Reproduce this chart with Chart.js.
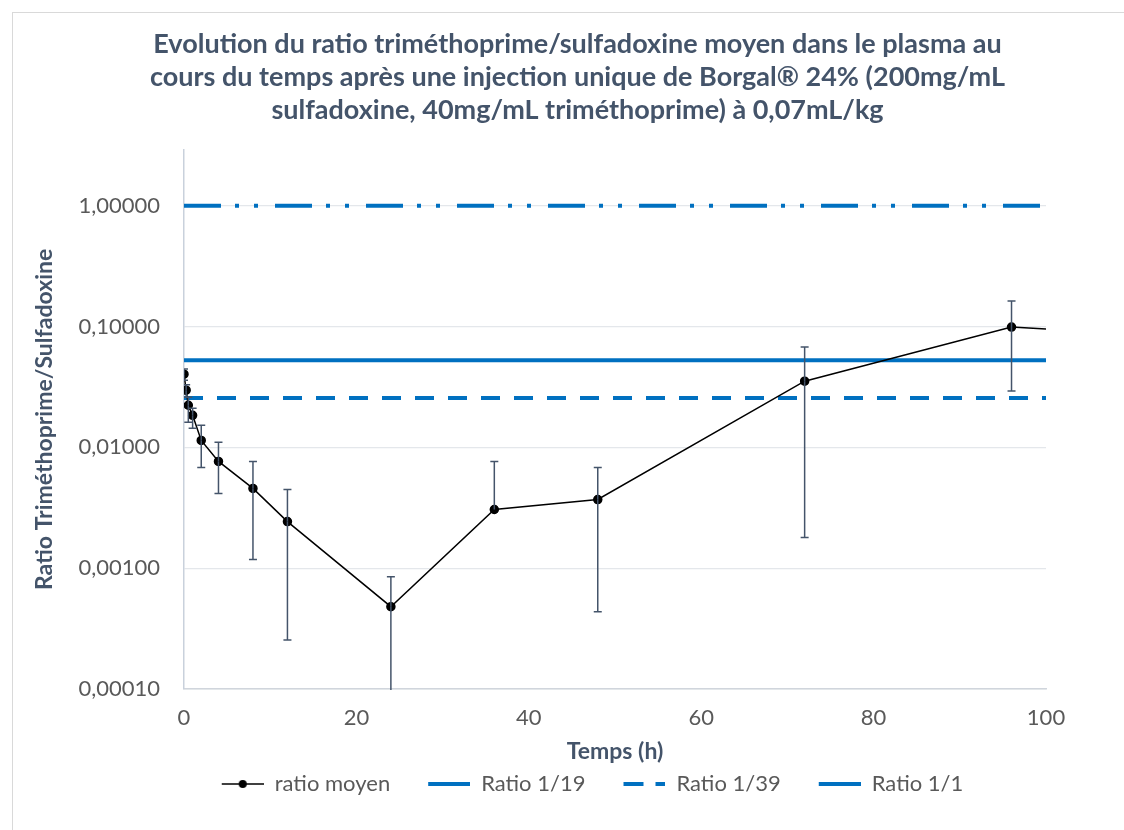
<!DOCTYPE html>
<html lang="fr">
<head>
    <meta charset="UTF-8">
    <title>Ratio triméthoprime/sulfadoxine</title>
    <style>
        body {
            margin: 0;
            background: #fff;
            overflow: hidden;
        }
        .cadre {
            position: absolute;
            left: 12px;
            top: 12px;
            width: 1200px;
            height: 900px;
            border-left: 1px solid #d9d9d9;
            border-top: 1px solid #d9d9d9;
        }
        .zone {
            position: absolute;
            left: 0;
            top: 0;
            width: 1124px;
            height: 830px;
        }
    </style>
</head>
<body>
    <div class="cadre"></div>
    <div class="zone">
        <canvas id="graphe" width="1124" height="830"></canvas>
    </div>

    <script src="https://cdn.jsdelivr.net/npm/chart.js"></script>

    <script>
        // Données
        var temps = [0, 0.25, 0.5, 1, 2, 4, 8, 12, 24, 36, 48, 72, 96, 120];
        var ratioMoyen = [0.0403, 0.0297, 0.0223, 0.0184, 0.0114, 0.00765, 0.00457, 0.00243, 0.00048, 0.00306, 0.0037, 0.0353, 0.099, 0.079];
        var erreurHaut = [0.0444, 0.033, 0.026, 0.0211, 0.0152, 0.0110, 0.00765, 0.00448, 0.00085, 0.00765, 0.00682, 0.0676, 0.163, null];
        var erreurBas = [0.036, 0.026, 0.0161, 0.0144, 0.00682, 0.00415, 0.00118, 0.000255, 0.00005, null, 0.000436, 0.00179, 0.0292, null];

        var bornesTemps = [0, 100];
        var ratio119 = 1 / 19;
        var ratio139 = 1 / 39;
        var ratio11 = 1;
        var ticksY = [0.0001, 0.001, 0.01, 0.1, 1];

        var bleu = '#0070C0';
        var ardoise = '#44546A';
        var gris = '#595959';
        var police = 'Lato, "Open Sans", sans-serif';

        function ligneH(valeur) {
            return bornesTemps.map(function (t) { return { x: t, y: valeur }; });
        }

        // Image de légende : marge transparente à gauche puis trait (+ point)
        function marqueur(couleur, epaisseur, tirets, point) {
            var marge = 30;
            var c = document.createElement('canvas');
            c.width = marge + 42;
            c.height = 14;
            var g = c.getContext('2d');
            g.strokeStyle = couleur;
            g.lineWidth = epaisseur;
            g.setLineDash(tirets);
            g.beginPath();
            g.moveTo(marge, 7);
            g.lineTo(marge + 42, 7);
            g.stroke();
            if (point) {
                g.fillStyle = couleur;
                g.beginPath();
                g.arc(marge + 21, 7, 4, 0, Math.PI * 2);
                g.fill();
            }
            return c;
        }

        // Barres d'erreur dessinées avec les échelles du graphique
        var barresErreur = {
            id: 'barresErreur',
            afterDatasetsDraw: function (chart) {
                var ctx = chart.ctx;
                var xs = chart.scales.x;
                var ys = chart.scales.y;
                var zone = chart.chartArea;
                ctx.save();
                ctx.beginPath();
                ctx.rect(zone.left, zone.top, zone.right - zone.left, zone.bottom - zone.top + 1);
                ctx.clip();
                ctx.strokeStyle = ardoise;
                ctx.lineWidth = 1.5;
                for (var i = 0; i < temps.length; i++) {
                    var px = xs.getPixelForValue(temps[i]);
                    var pm = ys.getPixelForValue(ratioMoyen[i]);
                    [erreurHaut[i], erreurBas[i]].forEach(function (v) {
                        if (v === null) return;
                        var py = ys.getPixelForValue(v);
                        ctx.beginPath();
                        ctx.moveTo(px, pm);
                        ctx.lineTo(px, py);
                        ctx.moveTo(px - 4, py);
                        ctx.lineTo(px + 4, py);
                        ctx.stroke();
                    });
                }
                ctx.restore();
            }
        };

        var ctx = document.getElementById('graphe').getContext('2d');
        var graphe = new Chart(ctx, {
            type: 'line',
            data: {
                datasets: [
                    {
                        label: 'ratio moyen',
                        data: temps.map(function (t, i) { return { x: t, y: ratioMoyen[i] }; }),
                        borderColor: '#000',
                        backgroundColor: '#000',
                        borderWidth: 1.5,
                        pointRadius: 4,
                        pointHoverRadius: 4,
                        tension: 0,
                        order: 1
                    },
                    {
                        label: 'Ratio 1/19',
                        data: ligneH(ratio119),
                        borderColor: bleu,
                        borderWidth: 4,
                        pointRadius: 0,
                        order: 2
                    },
                    {
                        label: 'Ratio 1/39',
                        data: ligneH(ratio139),
                        borderColor: bleu,
                        borderWidth: 4,
                        borderDash: [19, 14],
                        pointRadius: 0,
                        order: 2
                    },
                    {
                        label: 'Ratio 1/1',
                        data: ligneH(ratio11),
                        borderColor: bleu,
                        borderWidth: 4,
                        borderDash: [37, 14, 4, 15, 4, 17],
                        pointRadius: 0,
                        order: 2
                    }
                ]
            },
            plugins: [barresErreur],
            options: {
                responsive: false,
                animation: false,
                layout: {
                    padding: { left: 31, right: 0, top: 12, bottom: 25 }
                },
                plugins: {
                    tooltip: { enabled: false },
                    title: {
                        display: true,
                        text: [
                            'Evolution du ratio triméthoprime/sulfadoxine moyen dans le plasma au',
                            'cours du temps après une injection unique de Borgal® 24% (200mg/mL',
                            'sulfadoxine, 40mg/mL triméthoprime) à 0,07mL/kg'
                        ],
                        color: ardoise,
                        font: { family: police, size: 27, weight: 'bold', lineHeight: 1.22 },
                        padding: { top: 16, bottom: 23 }
                    },
                    legend: {
                        position: 'bottom',
                        labels: {
                            color: gris,
                            font: { family: police, size: 22 },
                            usePointStyle: true,
                            pointStyleWidth: 72,
                            padding: 8,
                            generateLabels: function (chart) {
                                var styles = [
                                    marqueur('#000', 1.5, [], true),
                                    marqueur(bleu, 4, [], false),
                                    marqueur(bleu, 4, [20, 12], false),
                                    marqueur(bleu, 4, [], false)
                                ];
                                return chart.data.datasets.map(function (ds, i) {
                                    return {
                                        text: ds.label,
                                        pointStyle: styles[i],
                                        fontColor: gris,
                                        lineWidth: 0,
                                        datasetIndex: i
                                    };
                                });
                            }
                        }
                    }
                },
                scales: {
                    x: {
                        type: 'linear',
                        min: 0,
                        max: 100,
                        afterFit: function (axe) {
                            axe.height = 76;
                        },
                        ticks: {
                            stepSize: 20,
                            color: gris,
                            font: { family: police, size: 22 },
                            padding: 16
                        },
                        grid: { display: false, drawTicks: false },
                        border: { color: '#D0D5DC', width: 1.5 },
                        title: {
                            display: true,
                            text: 'Temps (h)',
                            color: ardoise,
                            font: { family: police, size: 23, weight: 'bold' },
                            padding: { top: 0, bottom: 0 }
                        }
                    },
                    y: {
                        type: 'logarithmic',
                        min: 0.0001,
                        max: 2.9,
                        afterBuildTicks: function (axe) {
                            axe.ticks = ticksY.map(function (v) { return { value: v }; });
                        },
                        afterFit: function (axe) {
                            axe.width = 153;
                        },
                        ticks: {
                            color: gris,
                            font: { family: police, size: 22 },
                            padding: 24,
                            callback: function (v) {
                                return v.toFixed(5).replace('.', ',');
                            }
                        },
                        grid: { color: '#E4E7EB', lineWidth: 1.2, drawTicks: false },
                        border: { color: '#C9D1DC', width: 1.5 },
                        title: {
                            display: true,
                            text: 'Ratio Triméthoprime/Sulfadoxine',
                            color: ardoise,
                            font: { family: police, size: 23, weight: 'bold' },
                            padding: { top: 0, bottom: 0 }
                        }
                    },
                    // axe vide à droite pour garder la marge de droite
                    droite: {
                        type: 'linear',
                        position: 'right',
                        display: true,
                        afterFit: function (axe) {
                            axe.width = 78;
                        },
                        ticks: { display: false },
                        grid: { display: false, drawTicks: false },
                        border: { display: false }
                    }
                }
            }
        });
    </script>
</body>
</html>
